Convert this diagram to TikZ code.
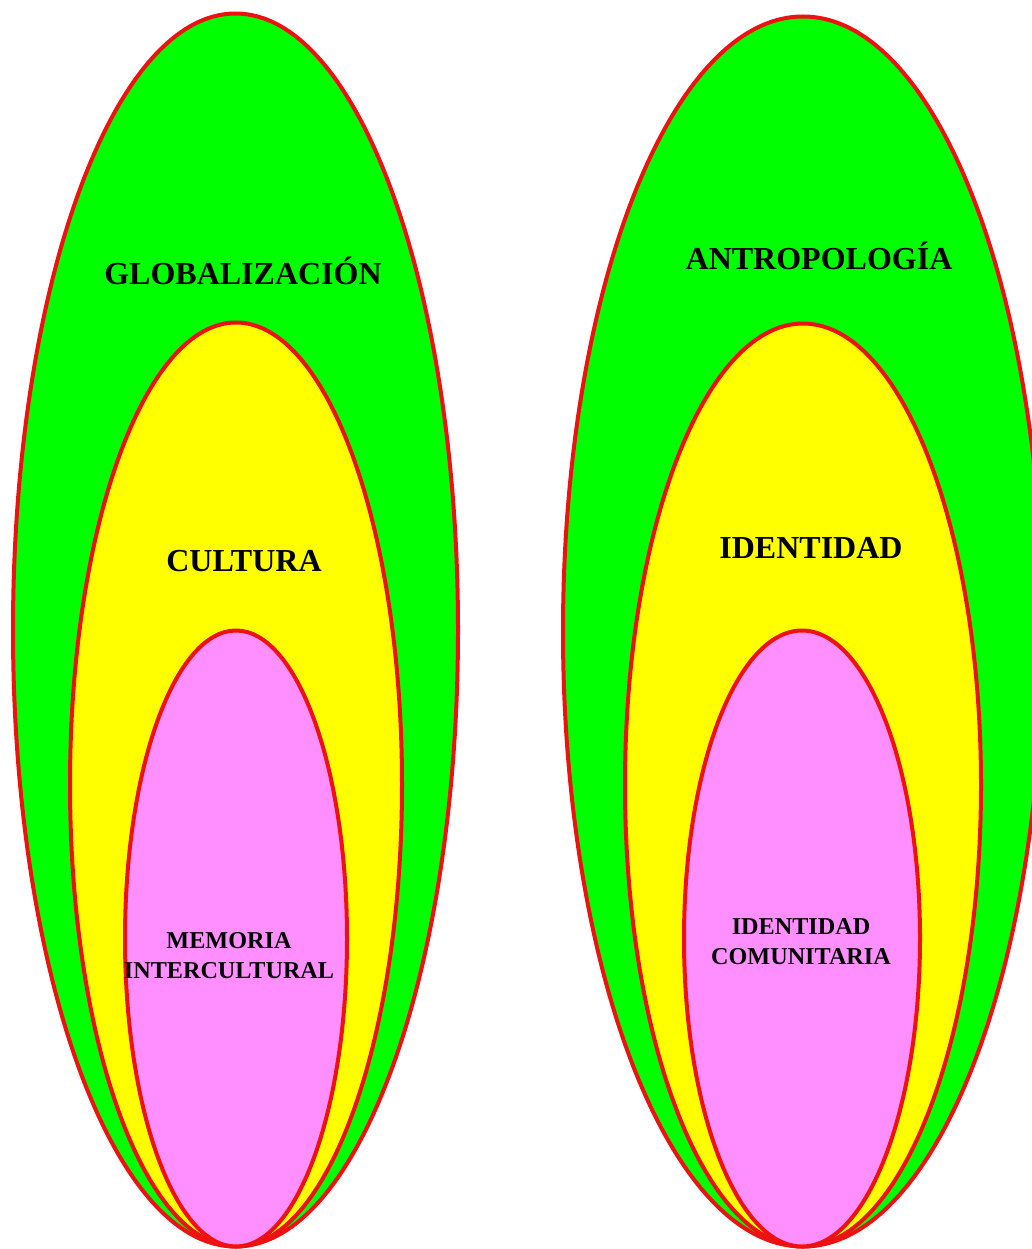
\documentclass[tikz,border=0pt]{standalone}
\usepackage{fontspec}
\setmainfont{Liberation Serif}
\definecolor{lgreen}{HTML}{00FF00}
\definecolor{lyellow}{HTML}{FFFF00}
\definecolor{lpink}{HTML}{FF8FFF}
\definecolor{lred}{HTML}{EE1111}
\begin{document}
\begin{tikzpicture}[x=1pt,y=-1pt,
  ring/.style={draw=lred,line width=4pt},
  big/.style={font=\bfseries\fontsize{32}{38}\selectfont,text=black,inner sep=0pt},
  small/.style={font=\bfseries\fontsize{24.2}{30}\selectfont,text=black,align=center,inner sep=0pt}]
\useasboundingbox (0,0) rectangle (1032,1249);
% left set
\path[ring,fill=lgreen] (235.5,630) ellipse [x radius=222.5,y radius=616.5];
\path[ring,fill=lyellow] (236,784.5) ellipse [x radius=166,y radius=462];
\path[ring,fill=lpink] (236,938.5) ellipse [x radius=111,y radius=308];
% right set
\path[ring,fill=lgreen] (803,631.5) ellipse [x radius=240,y radius=615];
\path[ring,fill=lyellow] (803,785) ellipse [x radius=178,y radius=461.5];
\path[ring,fill=lpink] (802,938.5) ellipse [x radius=118,y radius=308];
% labels
\node[big] (glob) at (243,271) {GLOBALIZACIÓN};
\node[big] (cult) at (244,561) {CULTURA};
\node[small] (mem) at (229,956) {MEMORIA\\INTERCULTURAL};
\node[big] (antr) at (819,256) {ANTROPOLOGÍA};
\node[big] (iden) at (811,548) {IDENTIDAD};
\node[small] (idc) at (801,942) {IDENTIDAD\\COMUNITARIA};
\end{tikzpicture}
\end{document}
